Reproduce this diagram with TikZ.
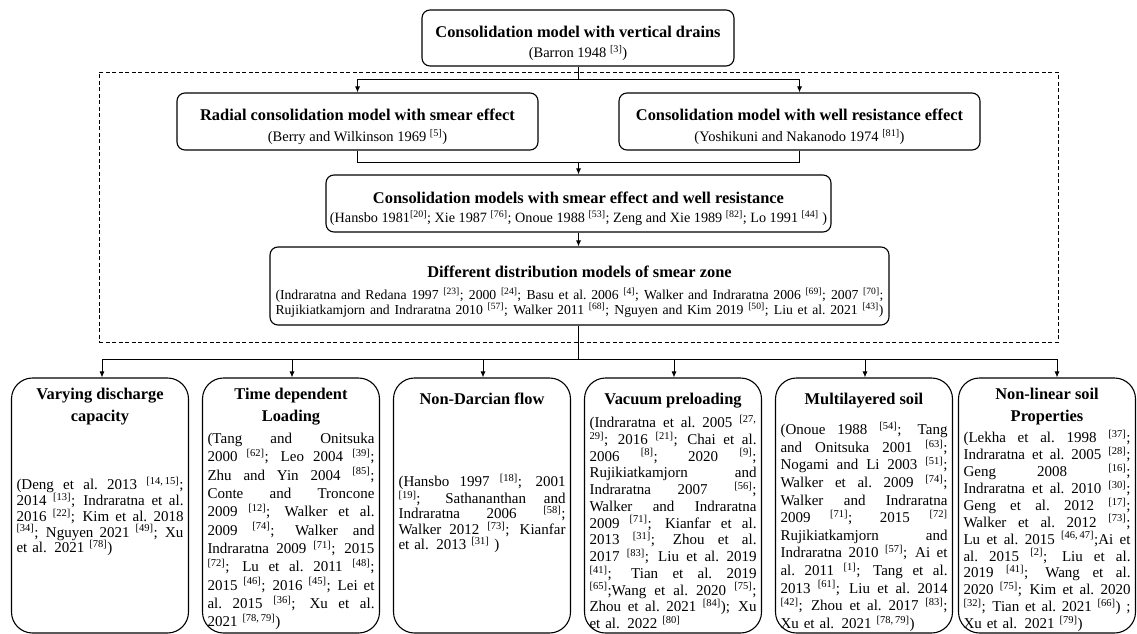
\documentclass[tikz,border=0pt]{standalone}
\usepackage{fontspec}
\setmainfont{Liberation Serif}
\usetikzlibrary{arrows.meta}
\newlength\bw \setlength\bw{167pt}
\newlength\sw \setlength\sw{608pt}
\newcommand\J[1]{\makebox[\bw][s]{\spaceskip=0.25em plus 1fil minus 0.08em\xspaceskip=\spaceskip\relax #1}}
\newcommand\JS[1]{\makebox[\sw][s]{\spaceskip=0.25em plus 1fil minus 0.1em\xspaceskip=\spaceskip\relax #1}}
\newcommand\sref[1]{\textsuperscript{[#1]}}
\newcommand\TT{\fontsize{16.4}{22}\selectfont\bfseries}
\newcommand\RR{\fontsize{14.5}{16}\selectfont}
\begin{document}
\begin{tikzpicture}[x=1pt,y=-1pt,
  ubox/.style={draw=black, line width=1.1pt, rounded corners=8pt, inner sep=0pt},
  lbox/.style={draw=black, line width=1.1pt, rounded corners=21pt, minimum width=177pt, minimum height=255pt, inner sep=0pt},
  ttl/.style={font=\TT, inner sep=0pt, anchor=base},
  mttl/.style={font=\TT, inner sep=0pt, anchor=north, align=center},
  refl/.style={font=\RR, inner sep=0pt, anchor=base},
  body/.style={inner sep=0pt, anchor=north, text width=\bw, align=left},
  conn/.style={line width=0.9pt},
  arr/.style={conn, -{Latex[length=6pt,width=5pt]}},
  dz/.style={draw=black, dash pattern=on 4pt off 2.5pt, line width=0.8pt, inner sep=0pt}]
\fill[white] (0,0) rectangle (1137,634);
\useasboundingbox (0,0) rectangle (1137,634);

% dashed frame
\node[dz, minimum width=959pt, minimum height=270pt] (frame) at (578.5,207) {};

% upper boxes
\node[ubox, minimum width=312pt, minimum height=56pt] (top) at (578,38) {};
\node[ttl] at (578,37.5) {Consolidation model with vertical drains};
\node[refl] at (578,58) {(Barron 1948 \sref{3})};

\node[ubox, minimum width=361pt, minimum height=57pt] (radial) at (357.5,121.5) {};
\node[ttl] at (357.5,120.5) {Radial consolidation model with smear effect};
\node[refl] at (357.5,141.5) {(Berry and Wilkinson 1969 \sref{5})};

\node[ubox, minimum width=361pt, minimum height=57pt] (well) at (799.5,121.5) {};
\node[ttl] at (799.5,120.5) {Consolidation model with well resistance effect};
\node[refl] at (799.5,141.5) {(Yoshikuni and Nakanodo 1974 \sref{81})};

\node[ubox, minimum width=505pt, minimum height=57pt] (middle) at (578.5,203.5) {};
\node[ttl] at (578.5,203.5) {Consolidation models with smear effect and well resistance};
\node[refl, font=\fontsize{14.2}{16}\selectfont] at (578.5,222.5) {(Hansbo 1981\sref{20}; Xie 1987 \sref{76}; Onoue 1988 \sref{53}; Zeng and Xie 1989 \sref{82}; Lo 1991 \sref{44} )};

\node[ubox, minimum width=619pt, minimum height=78pt] (smear) at (579.5,286) {};
\node[ttl] at (579.5,277.5) {Different distribution models of smear zone};
\node[inner sep=0pt, anchor=north, text width=\sw, align=left, font=\fontsize{13.7}{15}\selectfont] at (579.5,287.5) {%
\JS{(Indraratna and Redana 1997 \sref{23}; 2000 \sref{24}; Basu et al. 2006 \sref{4}; Walker and Indraratna 2006 \sref{69}; 2007 \sref{70};}\\
\JS{Rujikiatkamjorn and Indraratna 2010 \sref{57}; Walker 2011 \sref{68}; Nguyen and Kim 2019 \sref{50}; Liu et al. 2021 \sref{43})}};

% lower boxes
\node[lbox] (b1) at (100,505.5) {};
\node[lbox] (b2) at (291,505.5) {};
\node[lbox] (b3) at (482,505.5) {};
\node[lbox] (b4) at (673,505.5) {};
\node[lbox] (b5) at (864,505.5) {};
\node[lbox] (b6) at (1047,505.5) {};

\node[mttl] at (100,387.5) {Varying discharge\\capacity};
\node[body, font=\fontsize{15}{15.8}\selectfont] at (100,477) {%
\J{(Deng et al. 2013 \sref{14,\,15};}\\
\J{2014 \sref{13}; Indraratna et al.}\\
\J{2016 \sref{22}; Kim et al. 2018}\\
\J{\sref{34}; Nguyen 2021 \sref{49}; Xu}\\
et al. 2021 \sref{78})};

\node[mttl] at (291,387.5) {Time dependent\\Loading};
\node[body, font=\fontsize{15}{18.3}\selectfont] at (291,433) {%
\J{(Tang and Onitsuka}\\
\J{2000 \sref{62}; Leo 2004 \sref{39};}\\
\J{Zhu and Yin 2004 \sref{85};}\\
\J{Conte and Troncone}\\
\J{2009 \sref{12}; Walker et al.}\\
\J{2009 \sref{74}; Walker and}\\
\J{Indraratna 2009 \sref{71}; 2015}\\
\J{\sref{72}; Lu et al. 2011 \sref{48};}\\
\J{2015 \sref{46}; 2016 \sref{45}; Lei et}\\
\J{al. 2015 \sref{36}; Xu et al.}\\
2021 \sref{78,\,79})};

\node[ttl] at (482,404) {Non-Darcian flow};
\node[body, font=\fontsize{15}{15.5}\selectfont] at (482,474) {%
\J{(Hansbo 1997 \sref{18}; 2001}\\
\J{\sref{19}; Sathananthan and}\\
\J{Indraratna 2006 \sref{58};}\\
\J{Walker 2012 \sref{73}; Kianfar}\\
et al. 2013 \sref{31} )};

\node[ttl] at (673,404) {Vacuum preloading};
\node[body, font=\fontsize{15}{16.75}\selectfont] at (673,415) {%
\J{(Indraratna et al. 2005 \textsuperscript{[27,}}\\
\J{\textsuperscript{29]}; 2016 \sref{21}; Chai et al.}\\
\J{2006 \sref{8}; 2020 \sref{9};}\\
\J{Rujikiatkamjorn and}\\
\J{Indraratna 2007 \sref{56};}\\
\J{Walker and Indraratna}\\
\J{2009 \sref{71}; Kianfar et al.}\\
\J{2013 \sref{31}; Zhou et al.}\\
\J{2017 \sref{83}; Liu et al. 2019}\\
\J{\sref{41}; Tian et al. 2019}\\
\J{\sref{65};Wang et al. 2020 \sref{75};}\\
\J{Zhou et al. 2021 \sref{84}); Xu}\\
et al. 2022 \sref{80}};

\node[ttl] at (864,404) {Multilayered soil};
\node[body, font=\fontsize{15}{17.6}\selectfont] at (864,422) {%
\J{(Onoue 1988 \sref{54}; Tang}\\
\J{and Onitsuka 2001 \sref{63};}\\
\J{Nogami and Li 2003 \sref{51};}\\
\J{Walker et al. 2009 \sref{74};}\\
\J{Walker and Indraratna}\\
\J{2009 \sref{71}; 2015 \sref{72}}\\
\J{Rujikiatkamjorn and}\\
\J{Indraratna 2010 \sref{57}; Ai et}\\
\J{al. 2011 \sref{1}; Tang et al.}\\
\J{2013 \sref{61}; Liu et al. 2014}\\
\J{\sref{42}; Zhou et al. 2017 \sref{83};}\\
Xu et al. 2021 \sref{78,\,79})};

\node[mttl] at (1047,387.5) {Non-linear soil\\Properties};
\node[body, font=\fontsize{15}{16.9}\selectfont] at (1047,430) {%
\J{(Lekha et al. 1998 \sref{37};}\\
\J{Indraratna et al. 2005 \sref{28};}\\
\J{Geng 2008 \sref{16};}\\
\J{Indraratna et al. 2010 \sref{30};}\\
\J{Geng et al. 2012 \sref{17};}\\
\J{Walker et al. 2012 \sref{73};}\\
\J{Lu et al. 2015 \sref{46,\,47};Ai et}\\
\J{al. 2015 \sref{2}; Liu et al.}\\
\J{2019 \sref{41}; Wang et al.}\\
\J{2020 \sref{75}; Kim et al. 2020}\\
\J{\sref{32}; Tian et al. 2021 \sref{66}) ;}\\
Xu et al. 2021 \sref{79})};

% connectors
\coordinate (t1) at (578,79);
\draw[conn] (top.south) -- (t1);
\draw[conn] (radial.north |- t1) -- (well.north |- t1);
\draw[arr] (radial.north |- t1) -- (radial.north);
\draw[arr] (well.north |- t1) -- (well.north);

\coordinate (m1) at (578.5,162);
\draw[conn] (radial.south) -- (radial.south |- m1) -- (well.south |- m1) -- (well.south);
\draw[arr] (m1) -- (middle.north);
\draw[arr] (middle.south) -- (middle.south |- smear.north);

\coordinate (f) at (578.5,359);
\coordinate (a1) at (102,359);
\coordinate (a2) at (292,359);
\coordinate (a3) at (483,359);
\coordinate (a4) at (674,359);
\coordinate (a5) at (865,359);
\coordinate (a6) at (1057,359);
\draw[conn] (smear.south -| f) -- (f);
\draw[conn] (a1) -- (a6);
\foreach \i in {1,...,6} {\draw[arr] (a\i) -- (a\i |- b\i.north);}
\end{tikzpicture}
\end{document}
